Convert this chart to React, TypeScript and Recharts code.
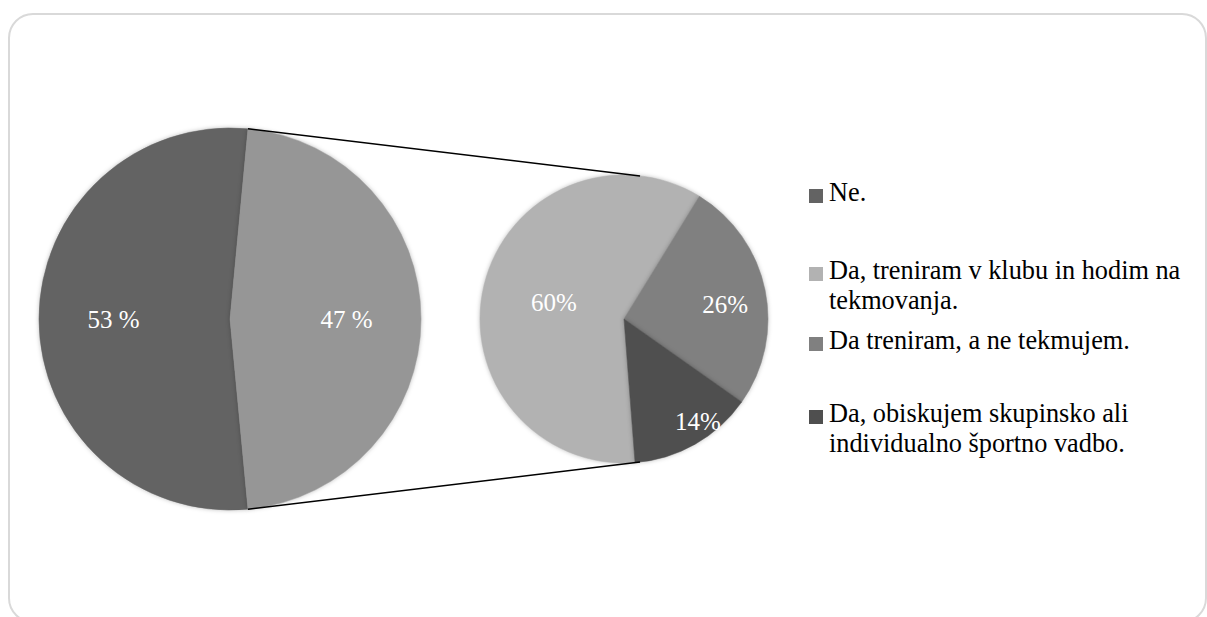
import { PieChart, Pie, Cell, Legend } from 'recharts';

// Main pie: "Ne." vs. all "Da" answers together
const LEFT_NAMES = ['Ne.', 'Da'];
const LEFT_VALUES = [53, 47];

// Secondary pie: breakdown of the "Da" answers
const RIGHT_NAMES = [
  'Da, treniram v klubu in hodim na tekmovanja.',
  'Da treniram, a ne tekmujem.',
  'Da, obiskujem skupinsko ali individualno športno vadbo.',
];
const RIGHT_VALUES = [60, 26, 14];

const LEGEND_NAMES = [LEFT_NAMES[0], ...RIGHT_NAMES];

const LEFT_COLORS = ['#636363', '#969696'];
const RIGHT_COLORS = ['#b2b2b2', '#808080', '#4f4f4f'];
const LEGEND_COLORS = [LEFT_COLORS[0], ...RIGHT_COLORS];

const WIDTH = 1207;
const HEIGHT = 617;
const FONT = '"Liberation Serif", "Times New Roman", serif';

const LEFT_PIE = { cx: 230, cy: 319, r: 191 };
const RIGHT_PIE = { cx: 624, cy: 319, r: 144 };
// the "Da" slice is centered on 3 o'clock
const LEFT_START = (LEFT_VALUES[1] * 3.6) / 2 + LEFT_VALUES[0] * 3.6;
const RIGHT_START = -85.6;

// label placement (fraction of radius, angle tweak) - Excel "best fit"-ish
const LEFT_LABEL_R = [0.61, 0.61];
const RIGHT_LABEL_R = [0.5, 0.71, 0.88];
const RIGHT_LABEL_TWEAK = [0, -3.7, 6.1];

// legend rows (top of each row, px)
const LEGEND_TOPS = [178, 256, 326, 399];

const RAD = Math.PI / 180;

const leftData = LEFT_NAMES.map((name, i) => ({ name, value: LEFT_VALUES[i] }));
const rightData = RIGHT_NAMES.map((name, i) => ({ name, value: RIGHT_VALUES[i] }));

function makeLabel(radii: number[], tweaks: number[], suffix: string) {
  return (props: any) => {
    const { cx, cy, midAngle, outerRadius, index, value } = props;
    const a = (midAngle + (tweaks[index] || 0)) * RAD;
    const r = outerRadius * radii[index];
    const x = cx + r * Math.cos(a);
    const y = cy - r * Math.sin(a);
    return (
      <text
        x={x}
        y={y}
        fill="#fff"
        fontSize={25}
        style={{ fontFamily: FONT }}
        textAnchor="middle"
        dominantBaseline="central"
      >
        {value}
        {suffix}
      </text>
    );
  };
}

const LegendContent = () => (
  <div style={{ position: 'relative', width: 380, height: 300, fontFamily: FONT }}>
    {LEGEND_NAMES.map((name, i) => (
      <div
        key={name}
        style={{
          position: 'absolute',
          top: LEGEND_TOPS[i] - LEGEND_TOPS[0],
          left: 0,
          width: 375,
          paddingLeft: 20,
          fontSize: 26.3,
          lineHeight: '30px',
          color: '#000',
          boxSizing: 'border-box',
          fontFamily: FONT,
        }}
      >
        <span
          style={{
            position: 'absolute',
            left: 0,
            top: 11,
            width: 14,
            height: 14,
            background: LEGEND_COLORS[i],
          }}
        />
        {name}
      </div>
    ))}
  </div>
);

function edgePoint(p: { cx: number; cy: number; r: number }, deg: number) {
  return { x: p.cx + p.r * Math.cos(deg * RAD), y: p.cy - p.r * Math.sin(deg * RAD) };
}

export default function App() {
  const otherHalf = (LEFT_VALUES[1] * 3.6) / 2;
  const l1 = edgePoint(LEFT_PIE, otherHalf);
  const l2 = edgePoint(LEFT_PIE, -otherHalf);
  const r1 = edgePoint(RIGHT_PIE, 83.6);
  const r2 = edgePoint(RIGHT_PIE, -83.6);

  return (
    <div
      style={{
        position: 'absolute',
        left: 0,
        top: 0,
        width: WIDTH,
        height: HEIGHT,
        overflow: 'hidden',
        background: '#fff',
      }}
    >
      <style>{`.recharts-pie-sector path { filter: drop-shadow(0 0 2px rgba(0,0,0,0.25)); }`}</style>
      <svg width={WIDTH} height={HEIGHT} style={{ position: 'absolute', left: 0, top: 0 }}>
        <rect x={9} y={14} width={1197} height={608} rx={24} fill="#fff" stroke="#d9d9d9" strokeWidth={2} />
      </svg>
      <div style={{ position: 'absolute', left: 0, top: 0 }}>
        <PieChart width={WIDTH} height={HEIGHT} margin={{ top: 0, right: 0, bottom: 0, left: 0 }}>
          <Pie
            data={leftData}
            dataKey="value"
            nameKey="name"
            cx={LEFT_PIE.cx}
            cy={LEFT_PIE.cy}
            outerRadius={LEFT_PIE.r}
            startAngle={LEFT_START}
            endAngle={LEFT_START - 360}
            label={makeLabel(LEFT_LABEL_R, [0, 0], ' %')}
            labelLine={false}
            isAnimationActive={false}
          >
            {leftData.map((d, i) => (
              <Cell key={d.name} fill={LEFT_COLORS[i]} stroke={LEFT_COLORS[i]} strokeWidth={0.5} />
            ))}
          </Pie>
          <Pie
            data={rightData}
            dataKey="value"
            nameKey="name"
            cx={RIGHT_PIE.cx}
            cy={RIGHT_PIE.cy}
            outerRadius={RIGHT_PIE.r}
            startAngle={RIGHT_START}
            endAngle={RIGHT_START - 360}
            label={makeLabel(RIGHT_LABEL_R, RIGHT_LABEL_TWEAK, '%')}
            labelLine={false}
            isAnimationActive={false}
          >
            {rightData.map((d, i) => (
              <Cell key={d.name} fill={RIGHT_COLORS[i]} stroke={RIGHT_COLORS[i]} strokeWidth={0.5} />
            ))}
          </Pie>
          <Legend
            content={<LegendContent />}
            wrapperStyle={{ left: 809, top: LEGEND_TOPS[0], width: 380, right: 'auto', bottom: 'auto' }}
          />
        </PieChart>
      </div>
      <svg
        width={WIDTH}
        height={HEIGHT}
        style={{ position: 'absolute', left: 0, top: 0, pointerEvents: 'none' }}
      >
        <line x1={l1.x} y1={l1.y} x2={r1.x} y2={r1.y} stroke="#000" strokeWidth={1.5} />
        <line x1={l2.x} y1={l2.y} x2={r2.x} y2={r2.y} stroke="#000" strokeWidth={1.5} />
      </svg>
    </div>
  );
}
